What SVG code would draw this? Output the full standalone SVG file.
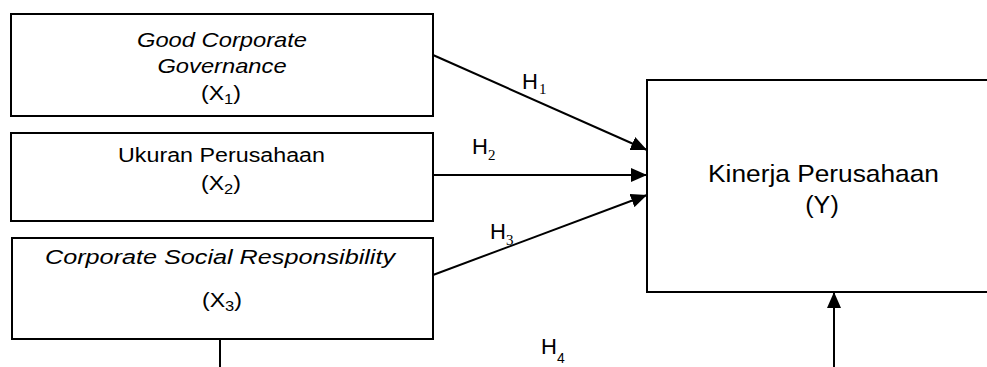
<svg xmlns="http://www.w3.org/2000/svg" width="987" height="367" viewBox="0 0 987 367">
<style>
.box{fill:#fff;stroke:#000;stroke-width:2}
.t{font-family:"Liberation Sans",Arial,sans-serif;font-size:21px;fill:#000;text-anchor:middle}
.i{font-style:italic}
.conn{stroke:#000;stroke-width:2;fill:none}
.h{font-family:"Liberation Sans",Arial,sans-serif;font-size:22px;fill:#000}
.hs{font-family:"Liberation Serif","Times New Roman",serif;font-size:15px;fill:#000}
.hs4{font-family:"Liberation Sans",Arial,sans-serif;font-size:14px;fill:#000}
</style>
<defs>
<marker id="ah" markerUnits="userSpaceOnUse" markerWidth="16" markerHeight="14" refX="16" refY="7" orient="auto">
<path d="M0,0 L16,7 L0,14 z" fill="#000"/>
</marker>
</defs>
<g id="x1">
<rect class="box" x="11" y="14" width="422" height="102"/>
<text class="t i" transform="translate(222,47) scale(1.13,1)">Good Corporate</text>
<text class="t i" transform="translate(222,73) scale(1.13,1)">Governance</text>
<text class="t" transform="translate(221,100) scale(1.1,1)">(X<tspan dy="4" style="font-size:15px">1</tspan><tspan dy="-4">)</tspan></text>
</g>
<g id="x2">
<rect class="box" x="11" y="133" width="422" height="88"/>
<text class="t" transform="translate(221.5,162) scale(1.108,1)">Ukuran Perusahaan</text>
<text class="t" transform="translate(221,190) scale(1.1,1)">(X<tspan dy="4" style="font-size:15px">2</tspan><tspan dy="-4">)</tspan></text>
</g>
<g id="x3">
<rect class="box" x="12" y="238" width="421" height="101"/>
<text class="t i" transform="translate(220,264) scale(1.2,1)">Corporate Social Responsibility</text>
<text class="t" transform="translate(222,307) scale(1.1,1)">(X<tspan dy="4" style="font-size:15px">3</tspan><tspan dy="-4">)</tspan></text>
</g>
<g id="y">
<rect class="box" x="647" y="80" width="345" height="212"/>
<text class="t" style="font-size:24px" transform="translate(823.5,182) scale(1.096,1)">Kinerja Perusahaan</text>
<text class="t" style="font-size:24px" transform="translate(822,213) scale(1.05,1)">(Y)</text>
</g>
<g id="connectors">
<line class="conn" x1="433" y1="55" x2="647" y2="150" marker-end="url(#ah)"/>
<line class="conn" x1="433" y1="175" x2="647" y2="175" marker-end="url(#ah)"/>
<line class="conn" x1="433" y1="275" x2="647" y2="195" marker-end="url(#ah)"/>
<line class="conn" x1="220" y1="339" x2="220" y2="367"/>
<line class="conn" x1="834" y1="367" x2="834" y2="292" marker-end="url(#ah)"/>
</g>
<g id="labels">
<text class="h" x="522" y="89">H</text><text class="hs" x="539" y="94">1</text>
<text class="h" x="472" y="154">H</text><text class="hs" x="488" y="160">2</text>
<text class="h" x="490" y="239">H</text><text class="hs" x="506" y="245">3</text>
<text class="h" x="541" y="354">H</text><text class="hs4" x="557" y="363">4</text>
</g>
</svg>
